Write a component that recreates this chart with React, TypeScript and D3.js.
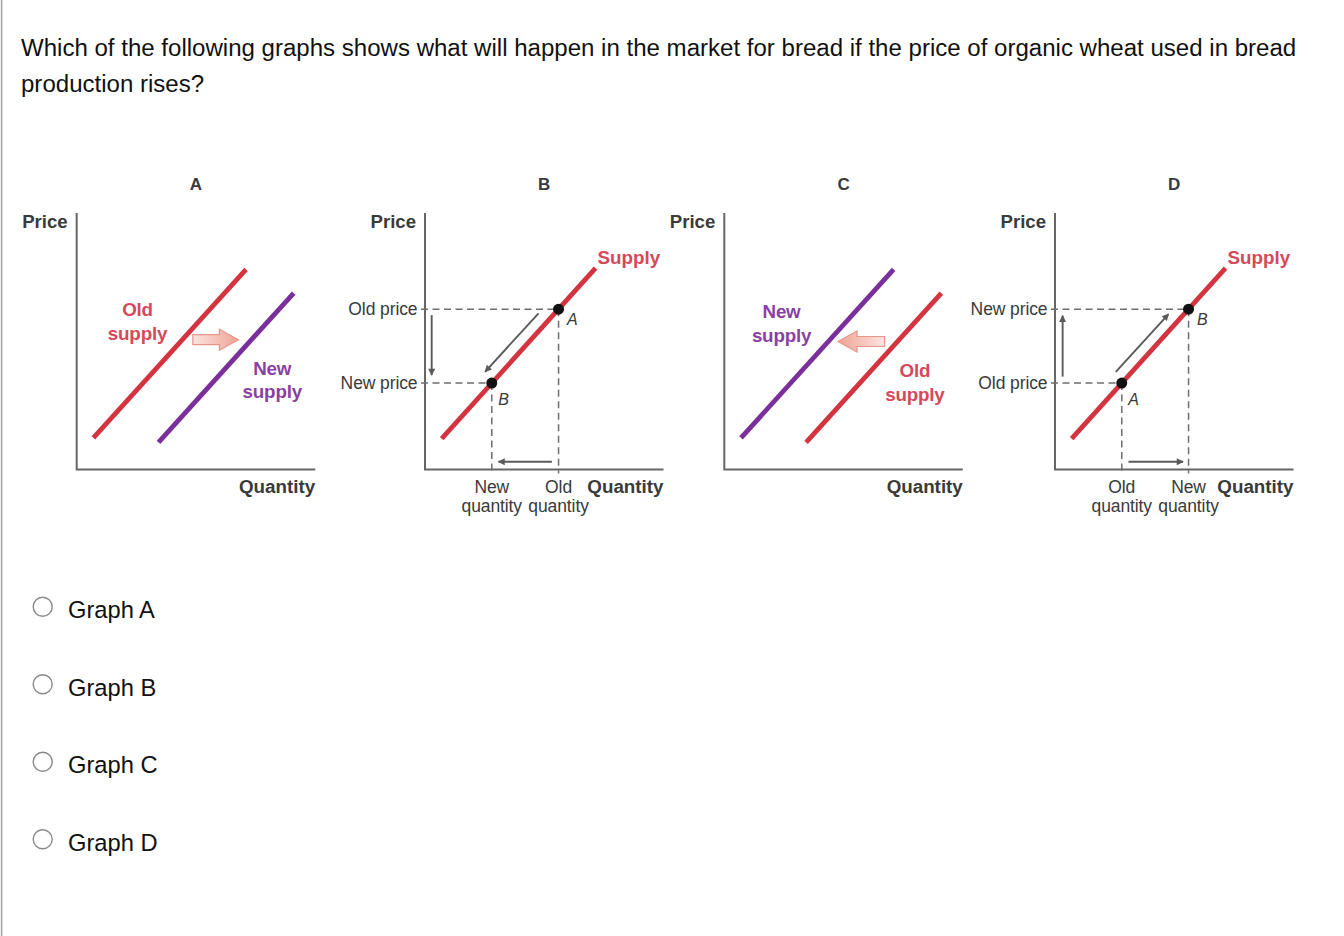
import React from "react";
import * as d3 from "d3";

// ---------- data ----------
const questionLines = [
  "Which of the following graphs shows what will happen in the market for bread if the price of organic wheat used in bread",
  "production rises?",
];
const panelNames = ["A", "B", "C", "D"];
const answerChoices = ["Graph A", "Graph B", "Graph C", "Graph D"];
const priceAxisLabel = "Price";
const quantityAxisLabel = "Quantity";

// shifting-supply panels (A and C): two parallel supply curves
const leftCurve = [{ q: 0.7, p: 1.23 }, { q: 7.1, p: 7.8 }];
const rightCurve = [{ q: 3.43, p: 1.06 }, { q: 9.1, p: 6.88 }];
const shiftArrowA = [{ q: 4.87, p: 5.06 }, { q: 6.78, p: 5.06 }];
const shiftArrowC = [{ q: 6.72, p: 4.99 }, { q: 4.77, p: 4.99 }];

// movement-along panels (B and D)
const supplyCurve = [{ q: 0.7, p: 1.2 }, { q: 7.15, p: 7.85 }];
const highPoint = { q: 5.6, p: 6.25 };
const lowPoint = { q: 2.8, p: 3.37 };
const movementDown = [{ q: 4.76, p: 6.09 }, { q: 2.52, p: 3.81 }];
const movementUp = [{ q: 2.55, p: 3.81 }, { q: 4.76, p: 6.06 }];
const priceArrowDown = [{ q: 0.28, p: 6.02 }, { q: 0.28, p: 3.68 }];
const priceArrowUp = [{ q: 0.32, p: 3.62 }, { q: 0.32, p: 6.0 }];
const quantityArrowLeft = [{ q: 5.32, p: 0.3 }, { q: 3.08, p: 0.3 }];
const quantityArrowRight = [{ q: 3.08, p: 0.3 }, { q: 5.37, p: 0.3 }];

// ---------- styles ----------
const FONT = "'Liberation Sans', Arial, Helvetica, sans-serif";
const RED = "#d3343f";
const PURPLE = "#7b2f9b";
const RED_TEXT = "#d5495a";
const PURPLE_TEXT = "#8a3fa2";
const AXIS = "#666";
const DARK = "#3a3a3a";
const DASH = "#6e6e6e";
const ARROW = "#5a5a5a";

const AXIS_W = 238.5;
const Y_TOP = 213;
const Y_BOT = 469.5;

type Pt = { q: number; p: number };

function makeScales(ax: number) {
  const x = d3.scaleLinear().domain([0, 10]).range([ax, ax + AXIS_W]);
  const y = d3.scaleLinear().domain([0, 10]).range([Y_BOT, Y_TOP]);
  return { x, y };
}

function Frame({ ax, name }: { ax: number; name: string }) {
  const { x, y } = makeScales(ax);
  return (
    <g>
      <text x={x(5)} y={190} textAnchor="middle" fontFamily={FONT} fontWeight="bold" fontSize={17} fill={DARK}>
        {name}
      </text>
      <text x={ax - 9} y={228} textAnchor="end" fontFamily={FONT} fontWeight="bold" fontSize={18.6} fill={DARK}>
        {priceAxisLabel}
      </text>
      <text x={x(10)} y={493} textAnchor="end" fontFamily={FONT} fontWeight="bold" fontSize={18.8} fill={DARK}>
        {quantityAxisLabel}
      </text>
      <path d={`M${x(0)},${y(10)}V${y(0)}H${x(10)}`} fill="none" stroke={AXIS} strokeWidth={2} />
    </g>
  );
}

function BlockArrow({ ax, pts, id }: { ax: number; pts: Pt[]; id: string }) {
  const { x, y } = makeScales(ax);
  const x1 = x(pts[0].q);
  const x2 = x(pts[1].q);
  const yy = y(pts[0].p);
  const dir = Math.sign(x2 - x1);
  const xb = x2 - dir * 19;
  const d = `M${x1},${yy - 5}L${xb},${yy - 5}L${xb},${yy - 10.5}L${x2},${yy}L${xb},${yy + 10.5}L${xb},${yy + 5}L${x1},${yy + 5}Z`;
  return (
    <g>
      <defs>
        <linearGradient id={id} gradientUnits="userSpaceOnUse" x1={x1} y1={yy} x2={x2} y2={yy}>
          <stop offset="0" stopColor="#fbe4df" />
          <stop offset="1" stopColor="#f0a394" />
        </linearGradient>
      </defs>
      <path d={d} fill={`url(#${id})`} stroke="#e6968a" strokeWidth={1.2} />
    </g>
  );
}

function ShiftPanel({ ax, name, variant }: { ax: number; name: string; variant: "A" | "C" }) {
  const { x, y } = makeScales(ax);
  const line = d3.line<Pt>().x((d) => x(d.q)).y((d) => y(d.p));
  const oldCurve = variant === "A" ? leftCurve : rightCurve;
  const newCurve = variant === "A" ? rightCurve : leftCurve;
  const lab = (txt: string[], cx: number, by: number, color: string) => (
    <text textAnchor="middle" fontFamily={FONT} fontWeight="bold" fontSize={18.8} fill={color} letterSpacing={-0.2}>
      {txt.map((t, i) => (
        <tspan key={i} x={cx} y={by + i * 23.5}>
          {t}
        </tspan>
      ))}
    </text>
  );
  return (
    <g>
      <Frame ax={ax} name={name} />
      <path d={line(oldCurve) || ""} stroke={RED} strokeWidth={4.8} fill="none" />
      <path d={line(newCurve) || ""} stroke={PURPLE} strokeWidth={4.8} fill="none" />
      <BlockArrow ax={ax} pts={variant === "A" ? shiftArrowA : shiftArrowC} id={`grad${variant}`} />
      {variant === "A" ? (
        <>
          {lab(["Old", "supply"], x(2.55), y(5.97), RED_TEXT)}
          {lab(["New", "supply"], x(8.2), y(3.7), PURPLE_TEXT)}
        </>
      ) : (
        <>
          {lab(["New", "supply"], x(2.4), y(5.9), PURPLE_TEXT)}
          {lab(["Old", "supply"], x(7.99), y(3.6), RED_TEXT)}
        </>
      )}
    </g>
  );
}

function MovePanel({ ax, name, variant }: { ax: number; name: string; variant: "B" | "D" }) {
  const { x, y } = makeScales(ax);
  const line = d3.line<Pt>().x((d) => x(d.q)).y((d) => y(d.p));
  const isB = variant === "B";
  const pts = [highPoint, lowPoint];
  const highLabel = isB ? "A" : "B";
  const lowLabel = isB ? "B" : "A";
  const highPrice = isB ? "Old price" : "New price";
  const lowPrice = isB ? "New price" : "Old price";
  const lowQty = isB ? "New" : "Old";
  const highQty = isB ? "Old" : "New";
  const arrows = isB
    ? [movementDown, priceArrowDown, quantityArrowLeft]
    : [movementUp, priceArrowUp, quantityArrowRight];
  const end = supplyCurve[1];
  return (
    <g>
      <Frame ax={ax} name={name} />
      {pts.map((pt, i) => (
        <g key={i}>
          <line x1={x(0) - 4} x2={x(pt.q)} y1={y(pt.p)} y2={y(pt.p)} stroke={DASH} strokeWidth={1.5} strokeDasharray="7 4.5" />
          <line x1={x(pt.q)} x2={x(pt.q)} y1={y(pt.p)} y2={y(0) + 4} stroke={DASH} strokeWidth={1.5} strokeDasharray="7 4.5" />
        </g>
      ))}
      <path d={line(supplyCurve) || ""} stroke={RED} strokeWidth={4.8} fill="none" />
      {arrows.map((a, i) => (
        <line
          key={i}
          x1={x(a[0].q)}
          y1={y(a[0].p)}
          x2={x(a[1].q)}
          y2={y(a[1].p)}
          stroke={ARROW}
          strokeWidth={1.9}
          markerEnd="url(#arrowHead)"
        />
      ))}
      {pts.map((pt, i) => (
        <circle key={i} cx={x(pt.q)} cy={y(pt.p)} r={5.5} fill="#111" />
      ))}
      <text x={x(end.q) + 2} y={y(end.p) - 4} fontFamily={FONT} fontWeight="bold" fontSize={18.8} fill={RED_TEXT}>
        Supply
      </text>
      <text x={x(highPoint.q) + 8.5} y={y(highPoint.p) + 15.5} fontFamily={FONT} fontStyle="italic" fontSize={16} fill={DARK}>
        {highLabel}
      </text>
      <text x={x(lowPoint.q) + 6.5} y={y(lowPoint.p) + 22} fontFamily={FONT} fontStyle="italic" fontSize={16} fill={DARK}>
        {lowLabel}
      </text>
      <text x={ax - 7.5} y={y(highPoint.p) + 5.5} textAnchor="end" fontFamily={FONT} fontSize={17.5} fill={DARK} letterSpacing={-0.1}>
        {highPrice}
      </text>
      <text x={ax - 7.5} y={y(lowPoint.p) + 5.5} textAnchor="end" fontFamily={FONT} fontSize={17.5} fill={DARK} letterSpacing={-0.1}>
        {lowPrice}
      </text>
      {[
        { pt: lowPoint, t: lowQty },
        { pt: highPoint, t: highQty },
      ].map((o, i) => (
        <text key={i} textAnchor="middle" fontFamily={FONT} fontSize={17.5} fill={DARK} letterSpacing={-0.1}>
          <tspan x={x(o.pt.q)} y={493}>
            {o.t}
          </tspan>
          <tspan x={x(o.pt.q)} y={511.5}>
            quantity
          </tspan>
        </text>
      ))}
    </g>
  );
}

export default function App() {
  const axisXs = [76.7, 425, 724.3, 1055];
  const optionY = d3.scaleLinear().domain([0, 3]).range([606.7, 839.3]);
  return (
    <svg
      width={1344}
      height={936}
      viewBox="0 0 1344 936"
      style={{ position: "absolute", left: 0, top: 0, background: "#fff" }}
    >
      <defs>
        <marker
          id="arrowHead"
          viewBox="0 0 10 10"
          refX={9}
          refY={5}
          markerWidth={9}
          markerHeight={7}
          markerUnits="userSpaceOnUse"
          orient="auto"
        >
          <path d="M0,0L10,5L0,10Z" fill={ARROW} />
        </marker>
      </defs>
      <rect x={0} y={0} width={1344} height={936} fill="#fff" />
      <rect x={0.8} y={0} width={1.6} height={936} fill="#a8a8a8" />
      {questionLines.map((t, i) => (
        <text key={i} x={21} y={56 + i * 36} fontFamily={FONT} fontSize={24.05} fill="#111">
          {t}
        </text>
      ))}
      <ShiftPanel ax={axisXs[0]} name={panelNames[0]} variant="A" />
      <MovePanel ax={axisXs[1]} name={panelNames[1]} variant="B" />
      <ShiftPanel ax={axisXs[2]} name={panelNames[2]} variant="C" />
      <MovePanel ax={axisXs[3]} name={panelNames[3]} variant="D" />
      {answerChoices.map((c, i) => (
        <g key={c}>
          <circle cx={42.7} cy={optionY(i)} r={9.5} fill="#fff" stroke="#8a8a8a" strokeWidth={1.4} />
          <text x={68} y={optionY(i) + 11.5} fontFamily={FONT} fontSize={23.7} fill="#111">
            {c}
          </text>
        </g>
      ))}
    </svg>
  );
}
